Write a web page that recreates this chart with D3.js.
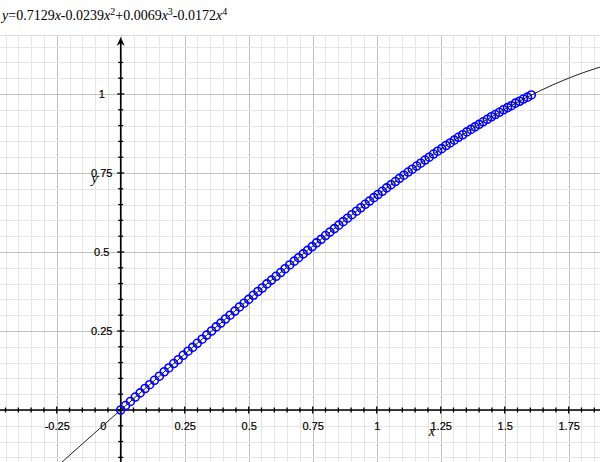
<!DOCTYPE html>
<html><head><meta charset="utf-8">
<script src="https://cdn.jsdelivr.net/npm/d3@7"></script>
<style>html,body{margin:0;padding:0;background:#fff;}svg{display:block;}</style>
</head><body>
<script>
// ---- data ----
const coefficients = [0.7129, -0.0239, 0.0069, -0.0172]; // x, x^2, x^3, x^4
const xTicks = [-0.25, 0, 0.25, 0.5, 0.75, 1, 1.25, 1.5, 1.75];
const xTickLabels = ["-0.25", "0", "0.25", "0.5", "0.75", "1", "1.25", "1.5", "1.75"];
const yTicks = [0.25, 0.5, 0.75, 1];
const yTickLabels = ["0.25", "0.5", "0.75", "1"];
const pointX = [0,0.019,0.038,0.057,0.076,0.095,0.113,0.132,0.151,0.170,0.188,0.207,0.225,0.244,0.263,0.281,0.299,0.318,0.336,0.355,
0.373,0.391,0.409,0.427,0.446,0.464,0.482,0.500,0.518,0.536,0.553,0.571,0.589,0.607,0.625,0.642,0.660,0.678,0.695,0.713,
0.730,0.748,0.765,0.783,0.800,0.817,0.835,0.852,0.869,0.886,0.903,0.921,0.938,0.955,0.972,0.989,1.005,1.022,1.039,1.056,
1.073,1.089,1.106,1.123,1.139,1.156,1.172,1.189,1.205,1.222,1.238,1.254,1.271,1.287,1.303,1.319,1.336,1.352,1.368,1.384,
1.400,1.416,1.432,1.448,1.463,1.479,1.495,1.511,1.526,1.542,1.558,1.573,1.589,1.604];
const pointY = [0,0.014,0.027,0.041,0.054,0.068,0.080,0.094,0.107,0.121,0.133,0.147,0.159,0.173,0.186,0.198,0.211,0.224,0.237,0.250,
0.263,0.275,0.288,0.300,0.313,0.326,0.338,0.350,0.363,0.375,0.386,0.399,0.411,0.423,0.435,0.447,0.459,0.471,0.482,0.494,
0.505,0.517,0.529,0.540,0.552,0.563,0.574,0.585,0.596,0.607,0.618,0.629,0.640,0.651,0.661,0.672,0.682,0.692,0.703,0.713,
0.723,0.733,0.743,0.753,0.762,0.772,0.781,0.791,0.800,0.810,0.819,0.827,0.837,0.845,0.854,0.863,0.871,0.880,0.888,0.896,
0.904,0.912,0.920,0.928,0.935,0.942,0.950,0.957,0.963,0.971,0.977,0.984,0.990,0.997];

// ---- layout ----
const W = 600, H = 462, plotTop = 35;
const x = d3.scaleLinear().domain([-0.4715, 1.8723]).range([0, W]);
const y = d3.scaleLinear().domain([-0.1646, 1.1867]).range([H, plotTop]);

const svg = d3.select("body").append("svg").attr("width", W).attr("height", H);
svg.append("defs").append("clipPath").attr("id", "clip")
  .append("rect").attr("x", 0).attr("y", plotTop).attr("width", W).attr("height", H - plotTop);

// grid
const step = 0.05;
const xMinor = d3.range(Math.ceil(x.domain()[0] / step), Math.floor(x.domain()[1] / step) + 1).map(i => +(i * step).toFixed(2));
const yMinor = d3.range(Math.ceil(y.domain()[0] / step), Math.floor(y.domain()[1] / step) + 1).map(i => +(i * step).toFixed(2));
const isMajor = v => Math.abs(v / 0.25 - Math.round(v / 0.25)) < 1e-6;
const grid = svg.append("g").attr("clip-path", "url(#clip)").attr("shape-rendering", "crispEdges");
grid.selectAll(".vx").data(xMinor).join("line")
  .attr("x1", d => Math.round(x(d)) + 0.5).attr("x2", d => Math.round(x(d)) + 0.5)
  .attr("y1", plotTop).attr("y2", H)
  .attr("stroke", d => isMajor(d) ? "#c2c2c2" : "#e6e6e6").attr("stroke-width", 1);
grid.selectAll(".hy").data(yMinor).join("line")
  .attr("y1", d => Math.round(y(d)) + 0.5).attr("y2", d => Math.round(y(d)) + 0.5)
  .attr("x1", 0).attr("x2", W)
  .attr("stroke", d => isMajor(d) ? "#c2c2c2" : "#e6e6e6").attr("stroke-width", 1);
svg.append("line").attr("x1", 0).attr("x2", W).attr("y1", plotTop + 0.5).attr("y2", plotTop + 0.5)
  .attr("stroke", "#dcdcdc");

// axes
const x0 = x(0), y0 = y(0);
const axisG = svg.append("g");
axisG.append("line").attr("x1", 0).attr("x2", W).attr("y1", y0).attr("y2", y0)
  .attr("stroke", "#000").attr("stroke-width", 1.6);
axisG.append("line").attr("x1", x0).attr("x2", x0).attr("y1", 41).attr("y2", H)
  .attr("stroke", "#000").attr("stroke-width", 1.6);
axisG.append("path")
  .attr("d", `M${x0},37 L${x0 + 4},46 L${x0},43 L${x0 - 4},46 Z`).attr("fill", "#000");

// ticks through axes
axisG.selectAll(".tx").data(xMinor).join("line")
  .attr("x1", d => x(d)).attr("x2", d => x(d))
  .attr("y1", d => y0 - (isMajor(d) ? 3.5 : 2.5)).attr("y2", d => y0 + (isMajor(d) ? 3.5 : 2.5))
  .attr("stroke", "#000").attr("stroke-width", 1.3);
axisG.selectAll(".ty").data(yMinor.filter(v => y(v) > 48)).join("line")
  .attr("y1", d => y(d)).attr("y2", d => y(d))
  .attr("x1", d => x0 - (isMajor(d) ? 3.5 : 2.5)).attr("x2", d => x0 + (isMajor(d) ? 3.5 : 2.5))
  .attr("stroke", "#000").attr("stroke-width", 1.3);

// tick labels via d3 axes
const xAxis = d3.axisBottom(x).tickValues(xTicks).tickSize(0)
  .tickFormat((d, i) => xTickLabels[i]);
const gx = svg.append("g").attr("transform", `translate(0,${y0})`).call(xAxis);
gx.select(".domain").remove();
gx.selectAll("text").attr("y", 20).attr("dy", 0)
  .attr("font-family", "Liberation Sans, Arial, sans-serif").attr("font-size", 11).attr("fill", "#000")
  .attr("stroke", "#000").attr("stroke-width", 0.2)
  .attr("x", d => d === 0 ? -18 : 0);

const yAxis = d3.axisLeft(y).tickValues(yTicks).tickSize(0)
  .tickFormat((d, i) => yTickLabels[i]);
const gy = svg.append("g").attr("transform", `translate(${x0},0)`).call(yAxis);
gy.select(".domain").remove();
gy.selectAll("text").attr("x", -19).attr("text-anchor", "middle").attr("dy", "0.36em")
  .attr("font-family", "Liberation Sans, Arial, sans-serif").attr("font-size", 11).attr("fill", "#000")
  .attr("stroke", "#000").attr("stroke-width", 0.2);

// axis titles
svg.append("text").attr("x", x(1.215)).attr("y", 436).attr("text-anchor", "middle")
  .attr("font-family", "Liberation Serif, Times New Roman, serif").attr("font-style", "italic")
  .attr("font-size", 14).text("x");
svg.append("text").attr("x", x0 - 26).attr("y", 183).attr("text-anchor", "middle")
  .attr("font-family", "Liberation Serif, Times New Roman, serif").attr("font-style", "italic")
  .attr("font-size", 14).text("y");

// fitted curve
const poly = v => coefficients.reduce((s, c, i) => s + c * Math.pow(v, i + 1), 0);
const curveX = d3.range(0, 601).map(px => x.invert(px));
const line = d3.line().x(d => x(d)).y(d => y(poly(d)));
const plot = svg.append("g").attr("clip-path", "url(#clip)");

// points
plot.selectAll("circle").data(pointX).join("circle")
  .attr("cx", d => x(d)).attr("cy", (d, i) => y(pointY[i])).attr("r", 4)
  .attr("fill", "none").attr("stroke", "#0000ff").attr("stroke-width", 1.6);
plot.append("path").datum(curveX).attr("d", line)
  .attr("fill", "none").attr("stroke", "#222").attr("stroke-width", 1);

// title
const title = svg.append("text").attr("x", 2).attr("y", 20)
  .attr("font-family", "Liberation Serif, Times New Roman, serif").attr("font-size", 14).attr("fill", "#000");
title.append("tspan").attr("font-style", "italic").text("y");
title.append("tspan").text("=");
let pendingDy = 0;
coefficients.forEach((c, i) => {
  const s = (c < 0 ? "-" : (i > 0 ? "+" : "")) + Math.abs(c).toFixed(4);
  title.append("tspan").attr("font-size", 14).attr("dy", pendingDy).text(s);
  title.append("tspan").attr("font-style", "italic").text("x");
  pendingDy = 0;
  if (i > 0) {
    title.append("tspan").attr("font-size", 10).attr("dy", -5).text(String(i + 1));
    pendingDy = 5;
  }
});
</script>
</body></html>
